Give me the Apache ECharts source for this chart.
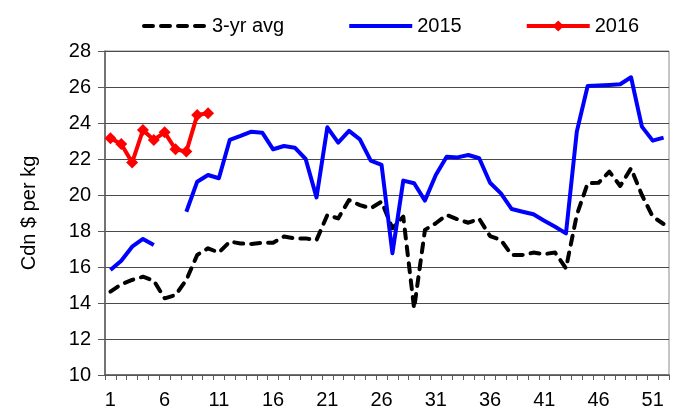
<!DOCTYPE html>
<html>
<head>
<meta charset="utf-8">
<script src="https://cdn.jsdelivr.net/npm/echarts@6/dist/echarts.min.js"></script>
<style>html,body{margin:0;padding:0;background:#fff}#c{width:678px;height:418px}</style>
</head>
<body>
<div id="c"></div>
<script>
var weeks = [];
for (var i = 1; i <= 52; i++) weeks.push(String(i));

var avg3yr = [14.63, 15.04, 15.28, 15.46, 15.24, 14.26, 14.44, 15.28, 16.67, 17.04,
  16.8, 17.41, 17.31, 17.28, 17.35, 17.35, 17.69, 17.59, 17.59, 17.5,
  18.89, 18.7, 19.72, 19.44, 19.26, 19.63, 18.15, 18.8, 13.7, 18.06,
  18.43, 18.89, 18.65, 18.46, 18.68, 17.72, 17.5, 16.67, 16.67, 16.8,
  16.72, 16.8, 15.93, 18.89, 20.65, 20.68, 21.3, 20.5, 21.48, 20.0,
  18.8, 18.39];

var y2015 = [15.83, 16.35, 17.13, 17.56, 17.22, null, null, 19.07, 20.74, 21.11,
  20.93, 23.06, 23.28, 23.52, 23.46, 22.54, 22.72, 22.63, 22.0, 19.87,
  23.76, 22.91, 23.56, 23.09, 21.91, 21.67, 16.76, 20.8, 20.65, 19.69,
  21.11, 22.13, 22.09, 22.22, 22.04, 20.68, 20.09, 19.22, 19.07, 18.93,
  18.57, 18.24, 17.87, 23.52, 26.06, 26.08, 26.11, 26.15, 26.54, 23.8,
  23.02, 23.19];

var y2016 = [23.15, 22.83, 21.8, 23.61, 23.06, 23.48, 22.54, 22.41, 24.44, 24.54];

var font = 'Liberation Sans, Arial, sans-serif';
var chart = echarts.init(document.getElementById('c'), null, {renderer: 'canvas'});
chart.setOption({
  animation: false,
  backgroundColor: '#fff',
  textStyle: {fontFamily: font, color: '#000'},
  legend: {
    top: 11, left: 137,
    itemWidth: 63, itemHeight: 14, itemGap: 63,
    lineStyle: {width: 4},
    textStyle: {fontFamily: font, fontSize: 20, color: '#000'},
    data: [
      {name: '3-yr avg', itemStyle: {opacity: 0}},
      {name: '2015', itemStyle: {opacity: 0}},
      {name: '2016'}
    ]
  },
  grid: {left: 105, right: 9, top: 51, bottom: 43, show: true, borderColor: '#8c8c8c', borderWidth: 1},
  xAxis: {
    type: 'category', data: weeks, boundaryGap: true,
    axisLine: {lineStyle: {color: '#595959', width: 1.5}},
    axisTick: {show: true, interval: 0, length: 5, lineStyle: {color: '#595959'}},
    axisLabel: {interval: 4, fontSize: 20, color: '#000', fontFamily: font, margin: 15},
    splitLine: {show: false}
  },
  yAxis: {
    type: 'value', min: 10, max: 28, interval: 2,
    name: 'Cdn $ per kg', nameLocation: 'middle', nameGap: 66,
    nameTextStyle: {fontSize: 20, color: '#000', fontFamily: font},
    axisLine: {show: true, lineStyle: {color: '#595959', width: 1.5}},
    axisTick: {show: true, length: 7, lineStyle: {color: '#595959'}},
    axisLabel: {fontSize: 20, color: '#000', fontFamily: font, margin: 14},
    splitLine: {show: true, lineStyle: {color: '#4a4a4a', width: 1}}
  },
  series: [
    {
      name: '3-yr avg', type: 'line', data: avg3yr, symbol: 'none',
      lineStyle: {color: '#000', width: 4, type: [9, 8], cap: 'round', join: 'round'},
      itemStyle: {color: '#000'}, z: 2
    },
    {
      name: '2015', type: 'line', data: y2015, symbol: 'none', connectNulls: false,
      lineStyle: {color: '#0000ff', width: 4, join: 'round'},
      itemStyle: {color: '#0000ff'}, z: 3
    },
    {
      name: '2016', type: 'line', data: y2016, symbol: 'diamond', symbolSize: 12,
      showSymbol: true, showAllSymbol: true,
      lineStyle: {color: '#ff0000', width: 4, join: 'round'},
      itemStyle: {color: '#ff0000'}, z: 4
    }
  ]
});
</script>
</body>
</html>
